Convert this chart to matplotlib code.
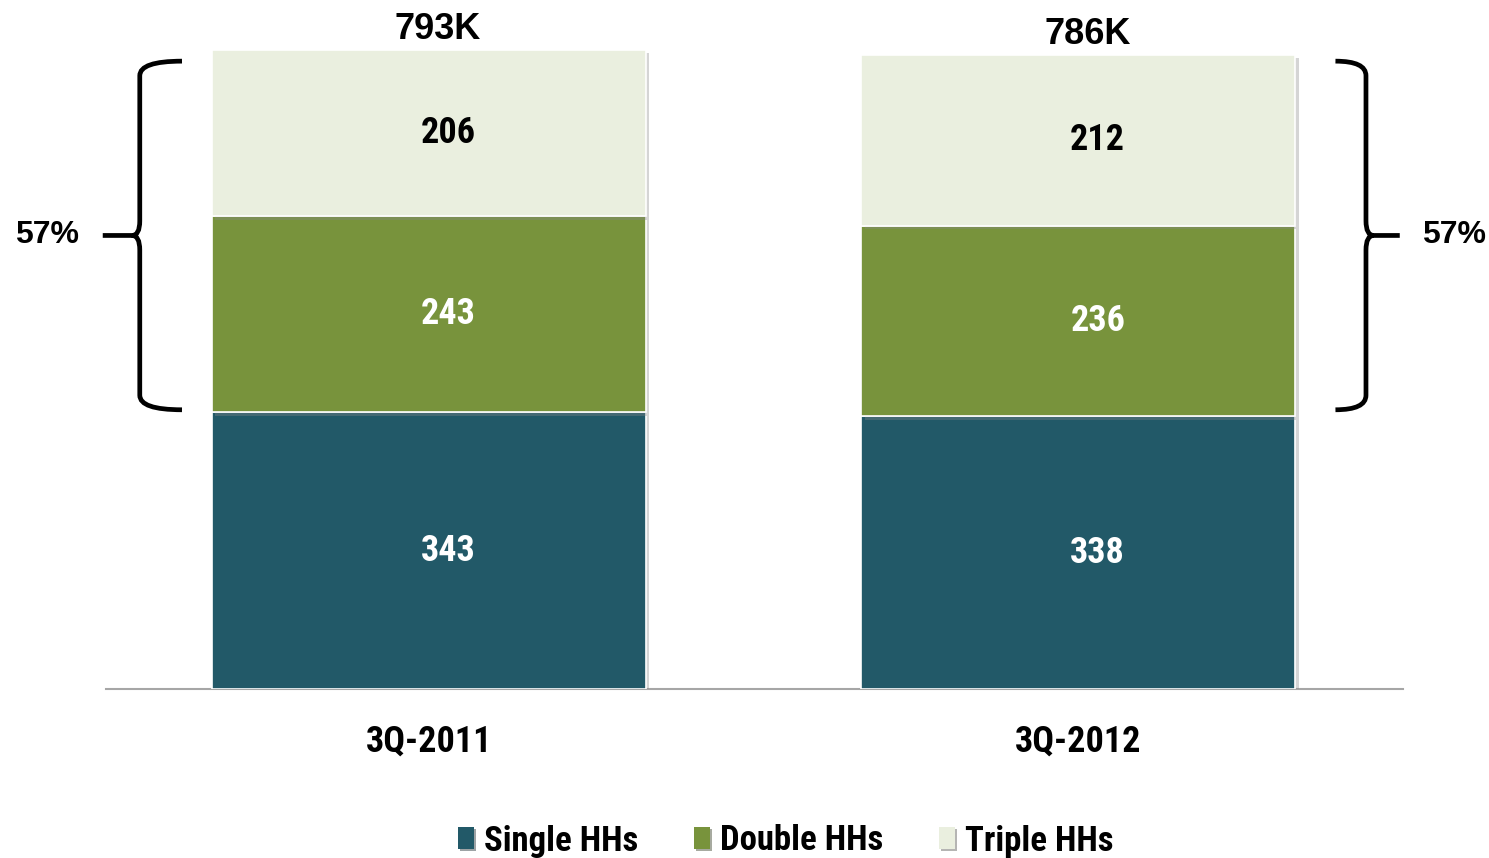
import matplotlib
matplotlib.use("Agg")
import matplotlib.pyplot as plt
from matplotlib.path import Path
from matplotlib.patches import PathPatch, Patch
import matplotlib.patheffects as pe

# Household counts (thousands) by product bundle
periods = ["3Q-2011", "3Q-2012"]
single_hh = [343, 338]
double_hh = [243, 236]
triple_hh = [206, 212]
totals = ["793K", "786K"]
bundle_share = ["57%", "57%"]
series_names = ["Single HHs", "Double HHs", "Triple HHs"]

colors = ["#225968", "#78933C", "#EAEFDF"]
label_colors = ["white", "white", "black"]

NARROW = ["Roboto Condensed", "Liberation Sans", "DejaVu Sans"]
REGULAR = ["Liberation Sans", "DejaVu Sans"]

W, H = 1489, 858
fig = plt.figure(figsize=(W / 100, H / 100), dpi=100)
px_per_unit = 0.807
y_top = 850
ax = fig.add_axes([106 / W, (H - 689) / H, (1403 - 106) / W, y_top * px_per_unit / H])
ax.set_xlim(-0.497, 1.5)
ax.set_ylim(0, y_top)

x = list(range(len(periods)))
bar_w = 0.668
shadow = [pe.SimplePatchShadow(offset=(2.5, -2.5), shadow_rgbFace="#888888", alpha=0.35), pe.Normal()]

bottoms = [0.0] * len(x)
for vals, col, lc in zip([single_hh, double_hh, triple_hh], colors, label_colors):
    bars = ax.bar(x, vals, width=bar_w, bottom=bottoms, color=col,
                  edgecolor="white", linewidth=1.2, zorder=2)
    for b in bars:
        b.set_path_effects(shadow)
    for xi, v, b0 in zip(x, vals, bottoms):
        ax.text(xi + 0.03, b0 + v / 2, f"{v}", ha="center", va="center",
                fontsize=26, fontweight="bold", color=lc, family=NARROW, zorder=3)
    bottoms = [b0 + v for b0, v in zip(bottoms, vals)]

# Totals above each stack
for xi, top, lab in zip(x, bottoms, totals):
    ax.annotate(lab, (xi + 0.014, top), xytext=(0, 14.5), textcoords="offset points",
                ha="center", va="center", fontsize=26, fontweight="bold",
                family=REGULAR, annotation_clip=False)


def brace(ax, x_vert, x_end, x_tip, y_bot, y_top_b, dx, dy):
    y_mid = (y_bot + y_top_b) / 2
    direction = 1 if x_tip < x_vert else -1
    x_knee = x_vert - direction * dx
    verts = [
        (x_end, y_top_b), (x_vert, y_top_b), (x_vert, y_top_b - dy),
        (x_vert, y_mid + dy), (x_vert, y_mid), (x_knee, y_mid),
        (x_tip, y_mid),
        (x_knee, y_mid), (x_vert, y_mid), (x_vert, y_mid - dy),
        (x_vert, y_bot + dy), (x_vert, y_bot), (x_end, y_bot),
    ]
    codes = [
        Path.MOVETO, Path.CURVE3, Path.CURVE3,
        Path.LINETO, Path.CURVE3, Path.CURVE3,
        Path.LINETO,
        Path.MOVETO, Path.CURVE3, Path.CURVE3,
        Path.LINETO, Path.CURVE3, Path.CURVE3,
    ]
    patch = PathPatch(Path(verts, codes), fill=False, edgecolor="black",
                      linewidth=3.4, capstyle="butt", clip_on=False, zorder=4)
    ax.add_patch(patch)
    return y_mid


# Brackets spanning the multi-product households
y_b0 = single_hh[0] + 3
y_b1 = bottoms[0] - 14
ym = brace(ax, -0.445, -0.380, -0.502, y_b0, y_b1, 0.012, 18)
ax.text(-0.588, ym, bundle_share[0], ha="center", va="center", fontsize=23,
        fontweight="bold", family=REGULAR, clip_on=False)
ym = brace(ax, 1.443, 1.396, 1.495, y_b0, y_b1, 0.012, 18)
ax.text(1.578, ym, bundle_share[1], ha="center", va="center", fontsize=23,
        fontweight="bold", family=REGULAR, clip_on=False)

# Axes styling
for s in ["top", "right", "left"]:
    ax.spines[s].set_visible(False)
ax.spines["bottom"].set_color("#A6A6A6")
ax.spines["bottom"].set_linewidth(1.5)
ax.spines["bottom"].set_zorder(1)
ax.set_yticks([])
ax.set_xticks(x)
ax.set_xticklabels(periods, fontsize=26, fontweight="bold", family=NARROW)
ax.tick_params(axis="x", length=0, pad=25)

# Legend
handles = [Patch(facecolor=c, edgecolor="none",
                 path_effects=[pe.SimplePatchShadow(offset=(1.5, -1.5), alpha=0.4), pe.Normal()])
           for c in colors]
leg = fig.legend(handles, series_names, loc="center", ncol=3,
                 bbox_to_anchor=(786 / W, (H - 841) / H), frameon=False,
                 handlelength=0.45, handleheight=0.6, handletextpad=0.3,
                 columnspacing=1.6, prop={"family": NARROW, "weight": "bold", "size": 25})

fig.savefig("out.png", dpi=100)
